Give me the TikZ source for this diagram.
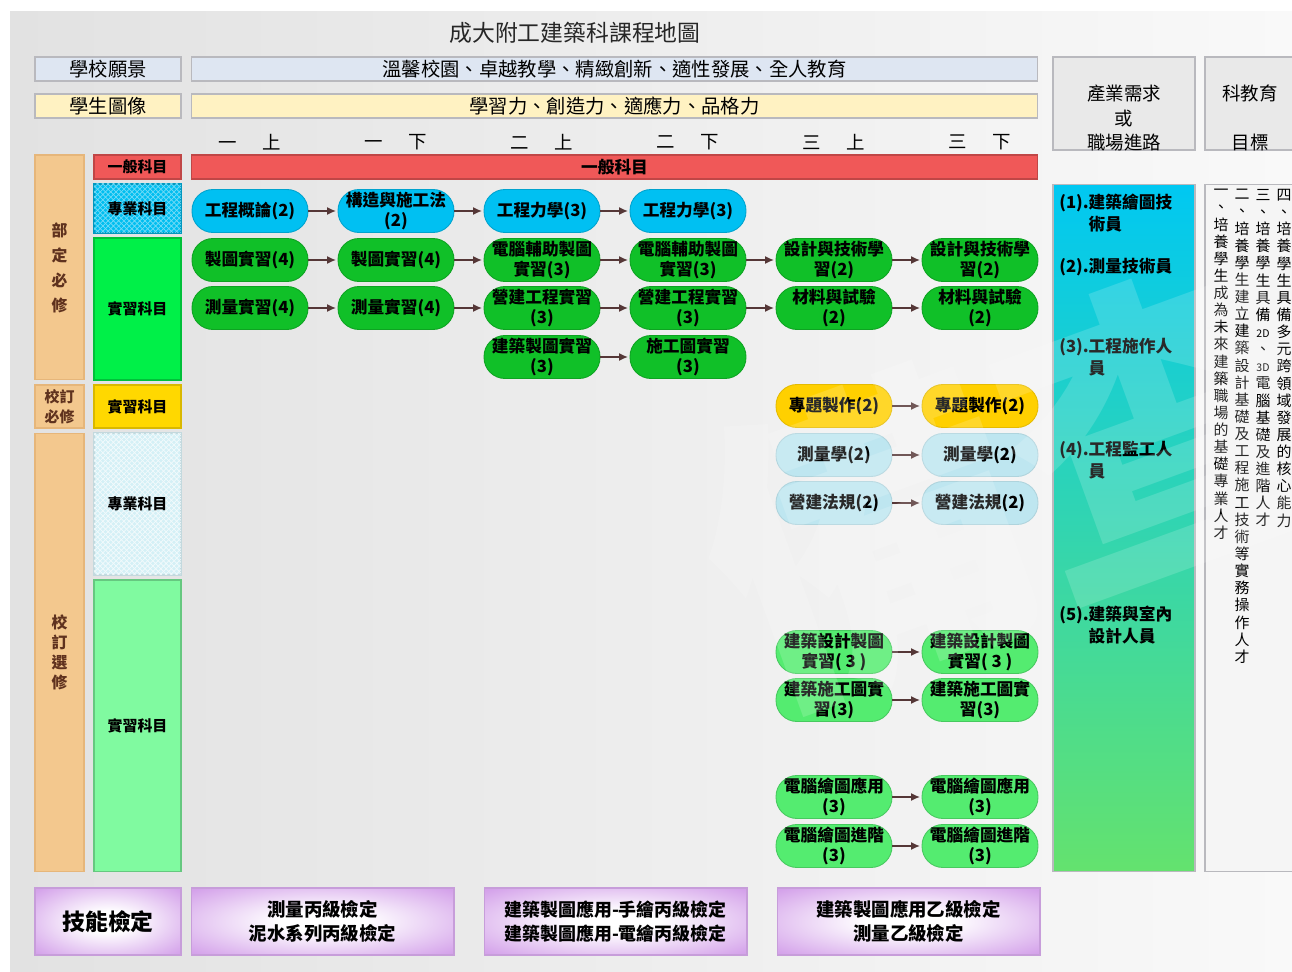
\documentclass[tikz,border=0pt]{standalone}
\usepackage{fontspec}
\setmainfont{Noto Sans CJK TC}
\usetikzlibrary{arrows.meta}
\usetikzlibrary{patterns}

% senkrechter Text, ein Zeichen pro Zeile
\makeatletter
\newcommand{\senkrecht}[1]{\vbox{\@tfor\zeichen:=#1\do{\hbox to 1em{\hss\zeichen\hss}}}}
\makeatother

\begin{document}
\begin{tikzpicture}[x=0.02cm, y=-0.02cm,
    kurs/.style={rounded corners=0.42cm, minimum width=2.32cm, minimum height=0.86cm,
        inner sep=1pt, align=center, line width=0.5pt,
        font=\fontsize{9.5}{11.8}\selectfont\bfseries},
    blau/.style={kurs, fill=kursblau, draw=kursblau!85!black},
    gruen/.style={kurs, fill=kursgruen, draw=kursgruen!85!black},
    hellgruen/.style={kurs, fill=kurshgruen, draw=kurshgruen!85!black},
    gelb/.style={kurs, fill=kursgelb, draw=kursgelb!90!black},
    hellblau/.style={kurs, fill=kurshblau, draw=kurshblau!92!black},
    feld/.style={draw=rahmen, line width=0.6pt, inner sep=0pt, align=center},
    pruefung/.style={feld, shading=pruefschatten, draw=lila!85!gray},
    pfeil/.style={draw=pfeilfarbe, line width=0.6pt, -{Latex[length=5pt, width=4.5pt]}, shorten >=1pt}
]

    % Farben
    \definecolor{bglinks}{RGB}{226,226,226}
    \definecolor{bgrechts}{RGB}{249,249,249}
    \definecolor{rahmen}{RGB}{185,185,190}
    \definecolor{vision}{RGB}{222,230,242}
    \definecolor{bild}{RGB}{255,242,194}
    \definecolor{rot}{RGB}{240,88,88}
    \definecolor{pflicht}{RGB}{243,200,142}
    \definecolor{cyanfeld}{RGB}{0,190,240}
    \definecolor{gruenfeld}{RGB}{0,240,72}
    \definecolor{gelbfeld}{RGB}{255,216,0}
    \definecolor{hblaufeld}{RGB}{212,240,246}
    \definecolor{hgruenfeld}{RGB}{128,250,160}
    \definecolor{kursblau}{RGB}{0,192,242}
    \definecolor{kursgruen}{RGB}{16,192,40}
    \definecolor{kurshgruen}{RGB}{84,236,112}
    \definecolor{kursgelb}{RGB}{255,208,0}
    \definecolor{kurshblau}{RGB}{190,230,240}
    \definecolor{verlaufoben}{RGB}{0,200,242}
    \definecolor{verlaufunten}{RGB}{100,226,110}
    \definecolor{lila}{RGB}{212,162,234}
    \definecolor{pfeilfarbe}{RGB}{85,55,55}
    \definecolor{kopfgrau}{RGB}{233,233,233}
    \definecolor{zielgrau}{RGB}{245,245,245}
    \definecolor{braun}{RGB}{95,50,30}

    % Schattierung der Pruefungsfelder
    \pgfdeclareradialshading{pruefschatten}{\pgfpoint{0bp}{0bp}}{color(0bp)=(white); color(8bp)=(white); color(34bp)=(lila); color(100bp)=(lila)}

    % Rahmen und Hintergrund
    \useasboundingbox (0,0) rectangle (1292,972);
    \clip (0,0) rectangle (1292,972);
    \fill[white] (0,0) rectangle (1292,972);
    \fill[left color=bglinks, right color=bgrechts] (10,12) rectangle (1292,972);

    % Titel
    \node[font=\fontsize{13}{15}\selectfont, text=black!85] (titel) at (575,33) {成大附工建築科課程地圖};

    % Leitbild und Schuelerbild
    \node[feld, fill=vision, minimum width=2.92cm, minimum height=0.48cm, font=\fontsize{11}{13}\selectfont] (leitbild) at (108,69) {學校願景};
    \node[feld, fill=vision, minimum width=16.94cm, minimum height=0.48cm, font=\fontsize{11}{13}\selectfont] (leitbildtext) at (614.5,69) {溫馨校園、卓越教學、精緻創新、適性發展、全人教育};
    \node[feld, fill=bild, minimum width=2.92cm, minimum height=0.48cm, font=\fontsize{11}{13}\selectfont] (schuelerbild) at (108,106) {學生圖像};
    \node[feld, fill=bild, minimum width=16.94cm, minimum height=0.48cm, font=\fontsize{11}{13}\selectfont] (schuelerbildtext) at (614.5,106) {學習力、創造力、適應力、品格力};

    % Semester
    \node[font=\fontsize{10.5}{12}\selectfont] (s1) at (250,142) {一\hspace{1.4em}上};
    \node[font=\fontsize{10.5}{12}\selectfont] (s2) at (396,142) {一\hspace{1.4em}下};
    \node[font=\fontsize{10.5}{12}\selectfont] (s3) at (542,142) {二\hspace{1.4em}上};
    \node[font=\fontsize{10.5}{12}\selectfont] (s4) at (688,142) {二\hspace{1.4em}下};
    \node[font=\fontsize{10.5}{12}\selectfont] (s5) at (834,142) {三\hspace{1.4em}上};
    \node[font=\fontsize{10.5}{12}\selectfont] (s6) at (980,142) {三\hspace{1.4em}下};

    % linke Spalten
    \node[feld, fill=rot, draw=rot!80!black, minimum width=1.74cm, minimum height=0.48cm, font=\fontsize{8.5}{10}\selectfont\bfseries] (allgemein) at (137.5,167) {一般科目};
    \node[feld, fill=rot, draw=rot!80!black, minimum width=16.94cm, minimum height=0.48cm, font=\fontsize{9.5}{11}\selectfont\bfseries] (allgemeinbalken) at (614.5,167) {一般科目};
    \node[feld, fill=pflicht, draw=pflicht!75!brown, minimum width=0.98cm, minimum height=4.5cm, text=braun, font=\fontsize{9}{14.2}\selectfont\bfseries] (bdbx) at (59.5,267.5) {部\\定\\必\\修};
    \node[feld, fill=cyanfeld, draw=cyanfeld!80!black, postaction={pattern=crosshatch, pattern color=cyanfeld!55!white}, minimum width=1.74cm, minimum height=0.98cm] (fach1) at (137.5,208.5) {};
    \node[font=\fontsize{8.5}{10}\selectfont\bfseries] at (fach1) {專業科目};
    \node[feld, fill=gruenfeld, draw=gruenfeld!80!black, minimum width=1.74cm, minimum height=2.84cm, font=\fontsize{8.5}{10}\selectfont\bfseries] (praxis1) at (137.5,309) {實習科目};
    \node[feld, fill=pflicht, draw=pflicht!75!brown, minimum width=0.98cm, minimum height=0.86cm, text=braun, font=\fontsize{8.5}{11.3}\selectfont\bfseries] (xdbx) at (59.5,406.5) {校訂\\必修};
    \node[feld, fill=gelbfeld, draw=gelbfeld!85!black, minimum width=1.74cm, minimum height=0.86cm, font=\fontsize{8.5}{10}\selectfont\bfseries] (praxis2) at (137.5,406.5) {實習科目};
    \node[feld, fill=pflicht, draw=pflicht!75!brown, minimum width=0.98cm, minimum height=8.78cm, text=braun, font=\fontsize{9}{11.5}\selectfont\bfseries] (xdxx) at (59.5,652.5) {校\\訂\\選\\修};
    \node[feld, fill=hblaufeld, draw=hblaufeld!80!gray, postaction={pattern=crosshatch, pattern color=white!70!hblaufeld}, minimum width=1.74cm, minimum height=2.84cm] (fach3) at (137.5,504) {};
    \node[font=\fontsize{8.5}{10}\selectfont\bfseries] at (fach3) {專業科目};
    \node[feld, fill=hgruenfeld, draw=hgruenfeld!80!black, minimum width=1.74cm, minimum height=5.84cm, font=\fontsize{8.5}{10}\selectfont\bfseries] (praxis3) at (137.5,726) {實習科目};

    % Kurse, Zeile fuer Zeile
    \node[blau] (a1) at (250,211) {工程概論(2)};
    \node[blau] (a2) at (396,211) {構造與施工法\\(2)};
    \node[blau] (a3) at (542,211) {工程力學(3)};
    \node[blau] (a4) at (688,211) {工程力學(3)};

    \node[gruen] (b1) at (250,260) {製圖實習(4)};
    \node[gruen] (b2) at (396,260) {製圖實習(4)};
    \node[gruen] (b3) at (542,260) {電腦輔助製圖\\實習(3)};
    \node[gruen] (b4) at (688,260) {電腦輔助製圖\\實習(3)};
    \node[gruen] (b5) at (834,260) {設計與技術學\\習(2)};
    \node[gruen] (b6) at (980,260) {設計與技術學\\習(2)};

    \node[gruen] (c1) at (250,308) {測量實習(4)};
    \node[gruen] (c2) at (396,308) {測量實習(4)};
    \node[gruen] (c3) at (542,308) {營建工程實習\\(3)};
    \node[gruen] (c4) at (688,308) {營建工程實習\\(3)};
    \node[gruen] (c5) at (834,308) {材料與試驗\\(2)};
    \node[gruen] (c6) at (980,308) {材料與試驗\\(2)};

    \node[gruen] (d3) at (542,357) {建築製圖實習\\(3)};
    \node[gruen] (d4) at (688,357) {施工圖實習\\(3)};

    \node[gelb] (e5) at (834,406) {專題製作(2)};
    \node[gelb] (e6) at (980,406) {專題製作(2)};

    \node[hellblau] (f5) at (834,455) {測量學(2)};
    \node[hellblau] (f6) at (980,455) {測量學(2)};
    \node[hellblau] (g5) at (834,503) {營建法規(2)};
    \node[hellblau] (g6) at (980,503) {營建法規(2)};

    \node[hellgruen] (h5) at (834,652) {建築設計製圖\\實習( 3 )};
    \node[hellgruen] (h6) at (980,652) {建築設計製圖\\實習( 3 )};
    \node[hellgruen] (i5) at (834,700) {建築施工圖實\\習(3)};
    \node[hellgruen] (i6) at (980,700) {建築施工圖實\\習(3)};
    \node[hellgruen] (j5) at (834,797) {電腦繪圖應用\\(3)};
    \node[hellgruen] (j6) at (980,797) {電腦繪圖應用\\(3)};
    \node[hellgruen] (k5) at (834,846) {電腦繪圖進階\\(3)};
    \node[hellgruen] (k6) at (980,846) {電腦繪圖進階\\(3)};

    % Pfeile
    \draw[pfeil] (a1) -- (a2);
    \draw[pfeil] (a2) -- (a3);
    \draw[pfeil] (a3) -- (a4);
    \draw[pfeil] (b1) -- (b2);
    \draw[pfeil] (b2) -- (b3);
    \draw[pfeil] (b3) -- (b4);
    \draw[pfeil] (b4) -- (b5);
    \draw[pfeil] (b5) -- (b6);
    \draw[pfeil] (c1) -- (c2);
    \draw[pfeil] (c2) -- (c3);
    \draw[pfeil] (c3) -- (c4);
    \draw[pfeil] (c4) -- (c5);
    \draw[pfeil] (c5) -- (c6);
    \draw[pfeil] (d3) -- (d4);
    \draw[pfeil] (e5) -- (e6);
    \draw[pfeil] (f5) -- (f6);
    \draw[pfeil] (g5) -- (g6);
    \draw[pfeil] (h5) -- (h6);
    \draw[pfeil] (i5) -- (i6);
    \draw[pfeil] (j5) -- (j6);
    \draw[pfeil] (k5) -- (k6);

    % rechte Spalten: Berufswege
    \node[feld, fill=kopfgrau, minimum width=2.84cm, minimum height=1.86cm] (bedarfkopf) at (1124,103.5) {};
    \node[font=\fontsize{10.5}{13.9}\selectfont, align=center] (bedarf) at (1124,118) {產業需求\\或\\職場進路};
    \node[feld, top color=verlaufoben, bottom color=verlaufunten, draw=rahmen, minimum width=2.84cm, minimum height=13.76cm] (wege) at (1124,528) {};
    \node[anchor=base west, inner sep=0pt, font=\fontsize{9.5}{12}\selectfont\bfseries] (w1) at (1059,209) {\begin{tabular}[t]{@{}l@{}l@{}}(1).\hspace{0.35em}&建築繪圖技\\&術員\end{tabular}};
    \node[anchor=base west, inner sep=0pt, font=\fontsize{9.5}{12}\selectfont\bfseries] (w2) at (1059,273) {\begin{tabular}[t]{@{}l@{}l@{}}(2).\hspace{0.35em}&測量技術員\end{tabular}};
    \node[anchor=base west, inner sep=0pt, font=\fontsize{9.5}{12}\selectfont\bfseries] (w3) at (1059,353) {\begin{tabular}[t]{@{}l@{}l@{}}(3).\hspace{0.35em}&工程施作人\\&員\end{tabular}};
    \node[anchor=base west, inner sep=0pt, font=\fontsize{9.5}{12}\selectfont\bfseries] (w4) at (1059,456) {\begin{tabular}[t]{@{}l@{}l@{}}(4).\hspace{0.35em}&工程監工人\\&員\end{tabular}};
    \node[anchor=base west, inner sep=0pt, font=\fontsize{9.5}{12}\selectfont\bfseries] (w5) at (1059,621) {\begin{tabular}[t]{@{}l@{}l@{}}(5).\hspace{0.35em}&建築與室內\\&設計人員\end{tabular}};

    % rechte Spalten: Ziele
    \node[feld, fill=kopfgrau, minimum width=1.9cm, minimum height=1.86cm] (zielkopf) at (1252.5,103.5) {};
    \node[font=\fontsize{10.5}{13.9}\selectfont, align=center] (ziel) at (1250,118) {科教育\\[13.9pt]目標};
    \node[feld, fill=zielgrau, minimum width=1.9cm, minimum height=13.76cm] (ziele) at (1252.5,528) {};
    \node[anchor=north, inner sep=0pt, font=\fontsize{8.5}{9.75}\selectfont] (z1) at (1221,189) {\senkrecht{一、培養學生成為未來建築職場的基礎專業人才}};
    \node[anchor=north, inner sep=0pt, font=\fontsize{8.5}{9.75}\selectfont] (z2) at (1242,189) {\senkrecht{二、培養學生建立建築設計基礎及工程施工技術等實務操作人才}};
    \node[anchor=north, inner sep=0pt, font=\fontsize{8.5}{9.75}\selectfont] (z3) at (1263,189) {\senkrecht{三、培養學生具備{\fontsize{6}{7}\selectfont 2D}、{\fontsize{6}{7}\selectfont 3D}電腦基礎及進階人才}};
    \node[anchor=north, inner sep=0pt, font=\fontsize{8.5}{9.75}\selectfont] (z4) at (1284,189) {\senkrecht{四、培養學生具備多元跨領域發展的核心能力}};

    % Technikerpruefungen
    \node[pruefung, minimum width=2.92cm, minimum height=1.34cm, font=\fontsize{13}{15}\selectfont\bfseries] (p1) at (108,921.5) {技能檢定};
    \node[pruefung, minimum width=5.26cm, minimum height=1.34cm, font=\fontsize{10.5}{13.6}\selectfont\bfseries] (p2) at (322.5,921.5) {測量丙級檢定\\泥水系列丙級檢定};
    \node[pruefung, minimum width=5.26cm, minimum height=1.34cm, font=\fontsize{10.2}{13.6}\selectfont\bfseries] (p3) at (615.5,921.5) {建築製圖應用-手繪丙級檢定\\建築製圖應用-電繪丙級檢定};
    \node[pruefung, minimum width=5.26cm, minimum height=1.34cm, font=\fontsize{10.5}{13.6}\selectfont\bfseries] (p4) at (908.5,921.5) {建築製圖應用乙級檢定\\測量乙級檢定};

    % Wasserzeichen
    \node[text=white, opacity=0.16, rotate=20, font=\fontsize{180}{180}\selectfont\bfseries] (stempel) at (1015,483) {備查};

\end{tikzpicture}
\end{document}
